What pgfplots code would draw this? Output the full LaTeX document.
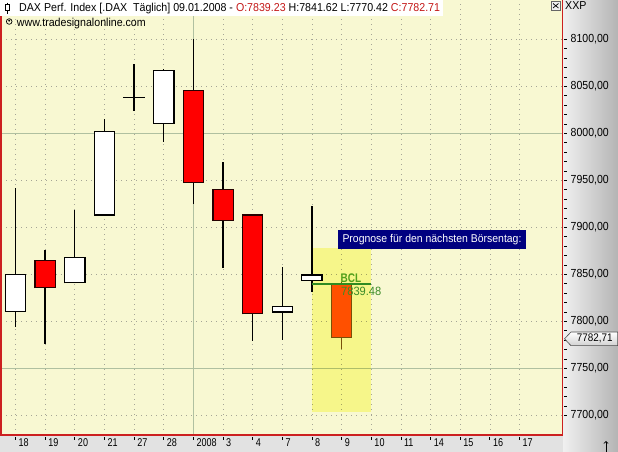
\documentclass[border=0pt]{standalone}
\usepackage{pgfplots}
\pgfplotsset{compat=1.18}
\usepackage{fontspec}
\setmainfont{Liberation Sans}
\newfontfamily\tfont[FakeStretch=0.925]{Liberation Sans}
\newfontfamily\afont[FakeStretch=0.8]{Liberation Sans}
\newfontfamily\yfont[FakeStretch=0.9]{Liberation Sans}
\definecolor{bg}{RGB}{248,248,210}
\definecolor{hlmul}{RGB}{253,253,168}
\definecolor{gridc}{RGB}{165,165,150}
\definecolor{solidg}{RGB}{176,192,160}
\definecolor{bordred}{RGB}{204,32,32}
\definecolor{candred}{RGB}{255,0,0}
\definecolor{fcfill}{RGB}{255,80,0}
\definecolor{fcdraw}{RGB}{120,80,10}
\definecolor{bclline}{RGB}{46,139,34}
\definecolor{bcltext}{RGB}{82,160,26}
\definecolor{bclval}{RGB}{60,140,40}
\definecolor{navy}{RGB}{0,0,128}
\definecolor{tred}{RGB}{196,24,24}
\definecolor{stripg}{RGB}{226,226,226}
\definecolor{rsl}{RGB}{240,240,240}
\definecolor{rsr}{RGB}{180,180,180}
\pgfplotsset{
 cw/.style={solid, mark=none, line width=1.3pt, line cap=butt},
 ce/.style={solid, mark=none, line width=21.6pt, line cap=butt, shorten <=-0.65pt, shorten >=-0.65pt},
 cb/.style={solid, mark=none, line width=19pt, line cap=butt, shorten <=0.65pt, shorten >=0.65pt},
 upwick/.style={cw, black}, upedge/.style={ce, black}, upbody/.style={cb, white},
 dnwick/.style={cw, black}, dnedge/.style={ce, black!85!red}, dnbody/.style={cb, candred},
 djwick/.style={cw, black}, djedge/.style={ce, black}, djbody/.style={draw=none},
 fcwick/.style={cw, fcdraw}, fcedge/.style={ce, fcdraw}, fcbody/.style={cb, fcfill},
}
% position, low, body low, body high, high, kind
\newcommand{\candle}[6]{%
 \addplot[#6wick] coordinates {(#1,#2) (#1,#5)};
 \addplot[#6edge] coordinates {(#1,#3) (#1,#4)};
 \addplot[#6body] coordinates {(#1,#3) (#1,#4)};
}
\begin{document}
\begin{tikzpicture}[x=1pt,y=1pt]
\useasboundingbox (0,0) rectangle (618,452);
\fill[stripg] (0,0) rectangle (618,17);
\shade[left color=rsl, right color=rsr] (563,0) rectangle (618,452);
\begin{axis}[
 at={(1pt,17pt)}, anchor=south west,
 scale only axis, width=561.5pt, height=435pt,
 xmin=-0.489, xmax=18.45, ymin=7679, ymax=8141.8,
 axis background/.style={fill=bg},
 axis line style={draw=none},
 xtick={0,...,17},
 xticklabels={18,19,20,21,27,28,2008,3,4,7,8,9,10,11,14,15,16,17},
 ytick={7700,7750,...,8100},
 yticklabels={{7700,00},{7750,00},{7800,00},{7850,00},{7900,00},{7950,00},{8000,00},{8050,00},{8100,00}},
 minor y tick num=4,
 xtick pos=left, ytick pos=right, yticklabel pos=right,
 tick align=outside,
 major tick length=2.5pt, minor tick length=2.5pt,
 x tick style={black, line width=0.8pt, yshift=-2pt},
 y tick style={black, line width=0.7pt, xshift=1.5pt},
 xticklabel style={font=\afont\fontsize{11.3}{12}\selectfont, anchor=north west, inner sep=0pt, xshift=3pt, yshift=-1pt},
 yticklabel style={font=\yfont\fontsize{11.7}{13}\selectfont, anchor=west, inner sep=0pt, xshift=5.5pt},
 grid=major,
 major grid style={draw=gridc, dash pattern=on 1pt off 4pt, line width=0.7pt},
]
% solid reference lines
\draw[solidg, line width=0.9pt] (axis cs:6,7679) -- (axis cs:6,8141.8);
\draw[solidg, line width=0.9pt] (axis cs:-0.489,8000) -- (axis cs:18.45,8000);
\draw[solidg, line width=0.9pt] (axis cs:-0.489,7750) -- (axis cs:18.45,7750);
% forecast highlight
\addplot[fill=hlmul, draw=none, blend mode=multiply] coordinates {(10,7703) (12,7703) (12,7878) (10,7878)} -- cycle;
% candles
\candle{0}{7794.3}{7810.6}{7850}{7941.5}{up}
\candle{1}{7776}{7836}{7865}{7876}{dn}
\candle{2}{7841}{7841}{7868}{7918}{up}
\candle{3}{7913}{7913}{8002}{8015}{up}
\candle{4}{8024}{8038}{8038}{8074}{dj}
\candle{5}{7991}{8010.6}{8067}{8068}{up}
\candle{6}{7924.5}{7948}{8045.7}{8100}{dn}
\candle{7}{7857}{7907.4}{7940.4}{7969}{dn}
\candle{8}{7779.4}{7808}{7913}{7914}{dn}
\candle{9}{7780.5}{7810}{7816}{7858}{up}
\candle{10}{7831}{7843.6}{7849.3}{7922.7}{up}
\candle{11}{7770.42}{7782.71}{7839.23}{7841.62}{fc}
% BCL line
\addplot[bclline, line width=1.8pt] coordinates {(10,7839.48) (12,7839.48)};
\end{axis}
% red border
\draw[bordred, line width=1.6pt] (1,436) -- (1,17) -- (562.5,17) -- (562.5,452);
% BCL texts
\node[anchor=base west, inner sep=0pt, text=bcltext] at (340.5,169) {\afont\fontsize{12.5}{13}\selectfont\bfseries BCL};
\node[anchor=base west, inner sep=0pt, text=bclval] at (341,156) {\tfont\fontsize{12}{13}\selectfont 7839.48};
% Prognose box
\fill[navy] (338,203.3) rectangle (526,221.7);
\node[text=white, inner sep=0pt] at (432,212.5) {\tfont\fontsize{11.3}{13}\selectfont Prognose für den nächsten Börsentag:};
% title
\fill[white] (0,436) rectangle (443,452);
\draw[black, line width=0.9pt] (7.6,449.3) -- (7.6,438);
\draw[black, fill=white, line width=0.7pt] (5.4,442) rectangle (9.8,447.3);
\node[anchor=base west, inner sep=0pt] at (19,440) {\tfont\fontsize{11.5}{13}\selectfont DAX Perf. Index [.DAX\ \ Täglich] 09.01.2008 - \textcolor{tred}{O:7839.23} H:7841.62 L:7770.42 \textcolor{tred}{C:7782.71}};
\draw[black, line width=0.7pt] (9.2,430.5) circle (2.8);
\fill[black] (9.2,431.3) circle (1.1);
\node[anchor=base west, inner sep=0pt] at (16.7,425.5) {\tfont\fontsize{11.5}{13}\selectfont www.tradesignalonline.com};
% close button and XXP
\draw[fill=rsl, draw=black!60, line width=0.5pt] (551,442) rectangle (560.5,450.5);
\draw[black, line width=0.7pt] (553,444) -- (558.5,448.5) (553,448.5) -- (558.5,444);
\node[anchor=base west, inner sep=0pt] at (565,442) {\tfont\fontsize{11.5}{13}\selectfont XXP};
% price marker
\shade[top color=white, bottom color=black!18, draw=black!70, line width=0.6pt] (564.5,113.2) -- (571,120) -- (617.6,120) -- (617.6,106.3) -- (571,106.3) -- cycle;
\node[inner sep=0pt] at (594.7,113.2) {\yfont\fontsize{11}{12}\selectfont 7782,71};
% arrow bottom right
\draw[black, line width=0.8pt, ->] (606,0.3) -- (606,11);
\end{tikzpicture}
\end{document}
